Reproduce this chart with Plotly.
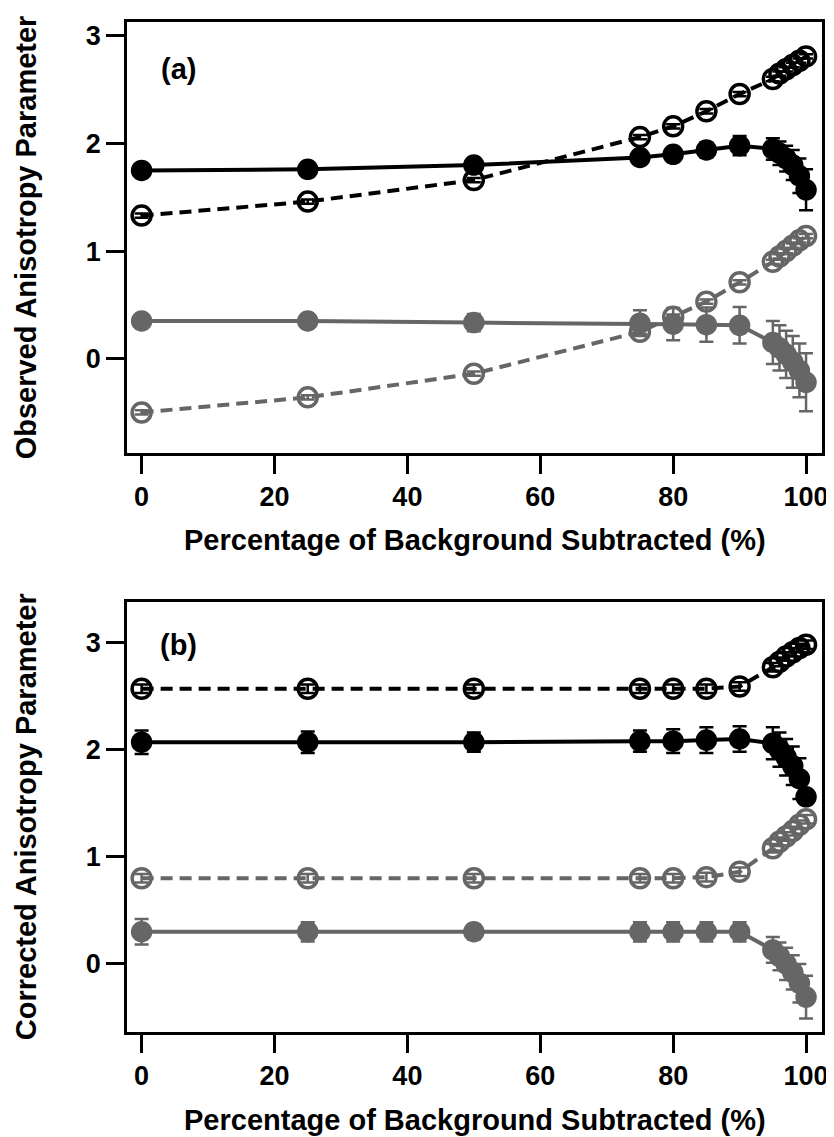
import plotly.graph_objects as go

# ---- data ----
pct = [0, 25, 50, 75, 80, 85, 90, 95, 96, 97, 98, 99, 100]

# panel (a) observed
a_black_filled = [1.75, 1.76, 1.80, 1.87, 1.90, 1.94, 1.98, 1.95, 1.91, 1.86, 1.80, 1.70, 1.57]
a_black_filled_err = [0.03, 0.03, 0.04, 0.05, 0.06, 0.07, 0.09, 0.10, 0.11, 0.12, 0.14, 0.16, 0.19]
a_black_open = [1.33, 1.46, 1.66, 2.06, 2.16, 2.30, 2.46, 2.60, 2.65, 2.69, 2.73, 2.77, 2.81]
a_black_open_err = [0.02] * 13
a_gray_filled = [0.35, 0.35, 0.335, 0.33, 0.32, 0.316, 0.31, 0.15, 0.10, 0.04, -0.03, -0.11, -0.22]
a_gray_filled_err = [0.04, 0.05, 0.08, 0.12, 0.15, 0.16, 0.17, 0.20, 0.21, 0.22, 0.24, 0.25, 0.27]
a_gray_open = [-0.50, -0.36, -0.14, 0.25, 0.39, 0.53, 0.71, 0.90, 0.95, 1.00, 1.05, 1.10, 1.14]
a_gray_open_err = [0.02] * 13

# panel (b) corrected
b_black_open = [2.57, 2.57, 2.57, 2.57, 2.57, 2.57, 2.59, 2.77, 2.82, 2.87, 2.91, 2.95, 2.98]
b_black_open_err = [0.04] * 13
b_black_filled = [2.07, 2.07, 2.07, 2.08, 2.08, 2.09, 2.10, 2.06, 2.00, 1.93, 1.85, 1.73, 1.56]
b_black_filled_err = [0.11, 0.10, 0.09, 0.10, 0.11, 0.12, 0.12, 0.15, 0.16, 0.17, 0.18, 0.19, 0.05]
b_gray_open = [0.80, 0.80, 0.80, 0.80, 0.80, 0.81, 0.86, 1.08, 1.14, 1.19, 1.24, 1.30, 1.35]
b_gray_open_err = [0.04] * 13
b_gray_filled = [0.30, 0.30, 0.30, 0.30, 0.30, 0.30, 0.30, 0.13, 0.07, 0.00, -0.08, -0.18, -0.31]
b_gray_filled_err = [0.12, 0.09, 0.07, 0.09, 0.09, 0.09, 0.09, 0.12, 0.13, 0.15, 0.16, 0.18, 0.20]

x_ticks = [0, 20, 40, 60, 80, 100]
y_ticks = [0, 1, 2, 3]

BLACK = "#000000"
GRAY = "#666666"
FONT = "Liberation Sans"


def series(x, y, err, color, filled, dashed, xa, ya):
    return go.Scatter(
        x=x, y=y, xaxis=xa, yaxis=ya, mode="lines+markers",
        line=dict(color=color, width=4, dash="12px,7px" if dashed else "solid"),
        marker=dict(
            symbol="circle" if filled else "circle-open",
            size=18 if filled else 19,
            color=color,
            line=dict(color=color, width=3.5),
        ),
        error_y=dict(type="data", array=err, visible=True, color=color,
                     thickness=2.5, width=7),
        showlegend=False,
    )


fig = go.Figure()
fig.add_trace(series(pct, a_gray_open, a_gray_open_err, GRAY, False, True, "x", "y"))
fig.add_trace(series(pct, a_gray_filled, a_gray_filled_err, GRAY, True, False, "x", "y"))
fig.add_trace(series(pct, a_black_open, a_black_open_err, BLACK, False, True, "x", "y"))
fig.add_trace(series(pct, a_black_filled, a_black_filled_err, BLACK, True, False, "x", "y"))

fig.add_trace(series(pct, b_gray_filled, b_gray_filled_err, GRAY, True, False, "x2", "y2"))
fig.add_trace(series(pct, b_gray_open, b_gray_open_err, GRAY, False, True, "x2", "y2"))
fig.add_trace(series(pct, b_black_filled, b_black_filled_err, BLACK, True, False, "x2", "y2"))
fig.add_trace(series(pct, b_black_open, b_black_open_err, BLACK, False, True, "x2", "y2"))

axis_common = dict(
    showline=True, linecolor="black", linewidth=2.5, mirror=True,
    ticks="outside", ticklen=18, tickwidth=2.5, tickcolor="black",
    showgrid=False, zeroline=False,
    tickfont=dict(family=FONT, size=27, color="black", weight="bold"),
)

# page body has an 8px margin, so the figure is laid out 8px up/left
fig.update_layout(
    width=834, height=1137,
    margin=dict(l=119, r=20, t=11, b=113),
    paper_bgcolor="white", plot_bgcolor="white",
    xaxis=dict(domain=[0, 1], anchor="y", range=[-2.2, 102.4], tickvals=x_ticks, **axis_common),
    yaxis=dict(domain=[0.5735, 1.0], anchor="x", range=[-0.875, 3.13], tickvals=y_ticks, **axis_common),
    xaxis2=dict(domain=[0, 1], anchor="y2", range=[-2.2, 102.4], tickvals=x_ticks, **axis_common),
    yaxis2=dict(domain=[0, 0.4258], anchor="x2", range=[-0.636, 3.38], tickvals=y_ticks, **axis_common),
)

title_font = dict(family=FONT, size=29, color="black", weight="bold")
annots = [
    dict(text="Percentage of Background Subtracted (%)", x=0.5, y=0.4867,
         xref="paper", yref="paper", xanchor="center", yanchor="middle", showarrow=False, font=title_font),
    dict(text="Percentage of Background Subtracted (%)", x=0.5, y=-0.0869,
         xref="paper", yref="paper", xanchor="center", yanchor="middle", showarrow=False, font=title_font),
    dict(text="Observed Anisotropy Parameter", x=-0.1453, y=0.7868, textangle=-90,
         xref="paper", yref="paper", xanchor="center", yanchor="middle", showarrow=False, font=title_font),
    dict(text="Corrected Anisotropy Parameter", x=-0.1453, y=0.2127, textangle=-90,
         xref="paper", yref="paper", xanchor="center", yanchor="middle", showarrow=False, font=title_font),
    dict(text="(a)", x=0.0734, y=0.9536, xref="paper", yref="paper",
         xanchor="center", yanchor="middle", showarrow=False, font=title_font),
    dict(text="(b)", x=0.0748, y=0.3835, xref="paper", yref="paper",
         xanchor="center", yanchor="middle", showarrow=False, font=title_font),
]
fig.update_layout(annotations=annots)

fig.write_html("out.html")
